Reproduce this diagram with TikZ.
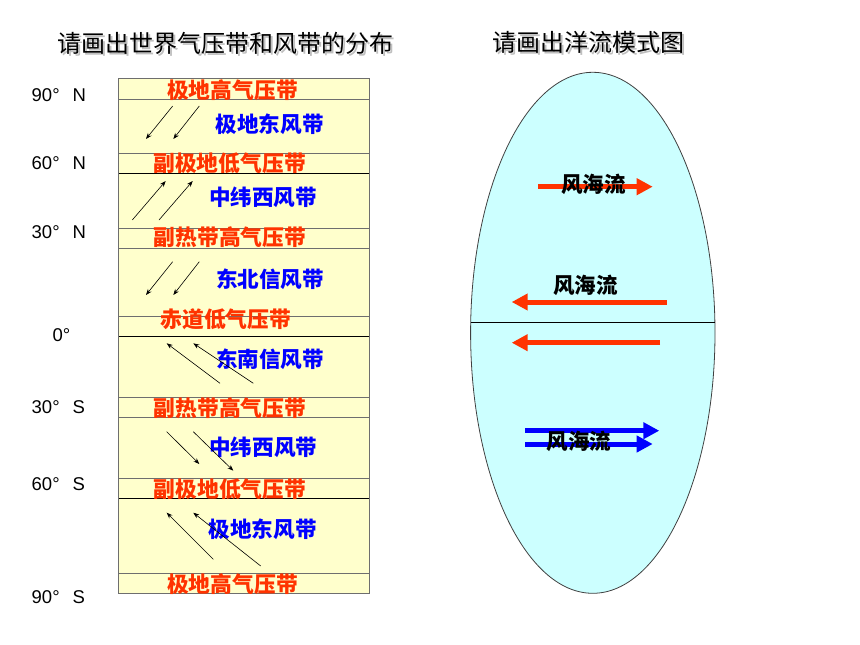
\documentclass[tikz,border=0pt]{standalone}
\usepackage{fontspec}
\setmainfont{Liberation Sans}
\newfontfamily\cjk{Noto Sans CJK SC}
\usetikzlibrary{arrows.meta}

\definecolor{beltred}{RGB}{255,51,0}
\definecolor{windblue}{RGB}{0,0,255}
\definecolor{bandfill}{RGB}{255,255,204}
\definecolor{seafill}{RGB}{204,255,255}
\definecolor{bandline}{RGB}{110,110,110}

\begin{document}
\begin{tikzpicture}[x=1pt, y=-1pt,
    titletext/.style={inner sep=0, font=\cjk\fontsize{24}{24}\selectfont},
    belt/.style={inner sep=0, text=beltred, font=\cjk\bfseries\fontsize{21.8}{21.8}\selectfont},
    wind/.style={inner sep=0, text=windblue, font=\cjk\bfseries\fontsize{21.6}{21.6}\selectfont},
    lat/.style={inner sep=0, anchor=west, font=\fontsize{18.5}{18.5}\selectfont},
    flow/.style={inner sep=0, font=\cjk\bfseries\fontsize{21.5}{21.5}\selectfont},
    windarrow/.style={-{Stealth[length=6pt, width=4.5pt]}, line width=0.6pt},
    current/.style={line width=5pt, -{Triangle[length=16pt, width=16pt]}}]
    \useasboundingbox (0,0) rectangle (860,645);

    % 标题
    \node[titletext, text=black!25] (T1s) at (227.8,45.3) {请画出世界气压带和风带的分布};
    \node[titletext] (T1) at (225.8,43.3) {请画出世界气压带和风带的分布};
    \node[titletext, text=black!25] (T2s) at (590.7,44.5) {请画出洋流模式图};
    \node[titletext] (T2) at (588.7,42.5) {请画出洋流模式图};

    % 气压带和风带
    \fill[bandfill] (118,78) rectangle (369,593);
    \foreach \y in {99,153,228,248,316,397,417,478,573}
        \draw[bandline, line width=1pt] (118,\y) -- (369,\y);
    \foreach \y in {173,336,498}
        \draw[line width=1pt] (118,\y) -- (369,\y);
    \draw[bandline, line width=1pt] (118,78) rectangle (369,593);

    % 纬度
    \node[lat] (L90N) at (31.5,95) {90°\hspace{13pt}N};
    \node[lat] (L60N) at (31.5,163.3) {60°\hspace{13pt}N};
    \node[lat] (L30N) at (31.5,231.7) {30°\hspace{13pt}N};
    \node[lat] (L0) at (52.5,335) {0°};
    \node[lat] (L30S) at (31.5,407) {30°\hspace{13pt}S};
    \node[lat] (L60S) at (31.5,484.5) {60°\hspace{13pt}S};
    \node[lat] (L90S) at (31.5,596.7) {90°\hspace{13pt}S};

    % 气压带
    \node[belt] (P1) at (232.5,90) {极地高气压带};
    \node[belt] (P2) at (229.5,163.3) {副极地低气压带};
    \node[belt] (P3) at (230,237.3) {副热带高气压带};
    \node[belt] (P4) at (225.8,319.7) {赤道低气压带};
    \node[belt] (P5) at (230,408) {副热带高气压带};
    \node[belt] (P6) at (230,488.8) {副极地低气压带};
    \node[belt] (P7) at (232.5,583.7) {极地高气压带};

    % 风带
    \node[wind] (W1) at (269.7,123.8) {极地东风带};
    \node[wind] (W2) at (263,197.5) {中纬西风带};
    \node[wind] (W3) at (270,279) {东北信风带};
    \node[wind] (W4) at (270,359.7) {东南信风带};
    \node[wind] (W5) at (263.3,447.5) {中纬西风带};
    \node[wind] (W6) at (262.7,528.8) {极地东风带};

    % 风向
    \coordinate (a1) at (172.7,106);   \coordinate (b1) at (146,139);
    \coordinate (a2) at (199.3,106);   \coordinate (b2) at (173.3,139);
    \coordinate (a3) at (132.3,220);   \coordinate (b3) at (165.7,181);
    \coordinate (a4) at (159,220);     \coordinate (b4) at (192.7,181);
    \coordinate (a5) at (172.7,261.7); \coordinate (b5) at (146,295);
    \coordinate (a6) at (199.3,261.7); \coordinate (b6) at (173.3,295);
    \coordinate (a7) at (220,383.3);   \coordinate (b7) at (166.7,343.3);
    \coordinate (a8) at (253.3,383.3); \coordinate (b8) at (193.3,343.3);
    \coordinate (a9) at (166.7,431.7); \coordinate (b9) at (199.3,464);
    \coordinate (a10) at (193.3,431.7); \coordinate (b10) at (233.3,470.7);
    \coordinate (a11) at (213.3,559.3); \coordinate (b11) at (166.7,512.7);
    \coordinate (a12) at (260.7,566);   \coordinate (b12) at (193.3,512.7);
    \draw[windarrow] (a1) -- (b1);
    \draw[windarrow] (a2) -- (b2);
    \draw[windarrow] (a3) -- (b3);
    \draw[windarrow] (a4) -- (b4);
    \draw[windarrow] (a5) -- (b5);
    \draw[windarrow] (a6) -- (b6);
    \draw[windarrow] (a7) -- (b7);
    \draw[windarrow] (a8) -- (b8);
    \draw[windarrow] (a9) -- (b9);
    \draw[windarrow] (a10) -- (b10);
    \draw[windarrow] (a11) -- (b11);
    \draw[windarrow] (a12) -- (b12);

    % 洋流
    \draw[fill=seafill, draw=black!75, line width=0.8pt] (592.8,332.8) ellipse [x radius=122.2, y radius=260.5];
    \coordinate (eqW) at (470.7,322.3);
    \coordinate (eqE) at (714.9,322.3);
    \draw[line width=0.9pt] (eqW) -- (eqE);

    \coordinate (c1s) at (538.3,186.7); \coordinate (c1e) at (652.7,186.7);
    \coordinate (c2s) at (666.7,302);   \coordinate (c2e) at (511.7,302);
    \coordinate (c3s) at (660,342.7);   \coordinate (c3e) at (511.7,342.7);
    \coordinate (c4s) at (525,430.7);   \coordinate (c4e) at (659.3,430.7);
    \coordinate (c5s) at (525,444);     \coordinate (c5e) at (652.7,444);
    \draw[current, beltred] (c1s) -- (c1e);
    \draw[current, beltred] (c2s) -- (c2e);
    \draw[current, beltred] (c3s) -- (c3e);
    \draw[current, windblue] (c4s) -- (c4e);
    \draw[current, windblue] (c5s) -- (c5e);

    \node[flow] (F1) at (593.3,184.2) {风海流};
    \node[flow] (F2) at (585.5,285.5) {风海流};
    \node[flow] (F3) at (579.2,441.2) {风海流};
\end{tikzpicture}
\end{document}
